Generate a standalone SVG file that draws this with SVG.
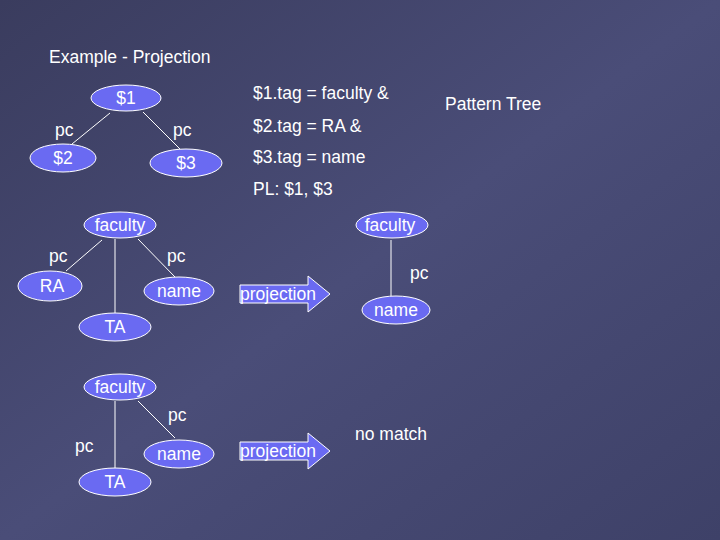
<svg xmlns="http://www.w3.org/2000/svg" width="720" height="540" viewBox="0 0 720 540">
<defs>
<linearGradient id="bg" x1="0" y1="0" x2="1" y2="1">
<stop offset="0" stop-color="#3a3c5e"/><stop offset="0.5" stop-color="#4a4d78"/><stop offset="1" stop-color="#3e4168"/>
</linearGradient>
<style>
text{font-family:"Liberation Sans",Arial,sans-serif;fill:#fff;font-size:17.5px}
.n ellipse{fill:#6a6af2;stroke:#fff;stroke-width:1}
.n text{text-anchor:middle}
.c line{stroke:#fff;stroke-width:1}
.arr{fill:#6a6af2;stroke:#fff;stroke-width:1}
</style>
</defs>
<rect width="720" height="540" fill="url(#bg)"/>
<text x="49" y="63">Example - Projection</text>
<text x="445" y="110">Pattern Tree</text>
<text x="253" y="99">$1.tag = faculty &amp;</text>
<text x="253" y="132">$2.tag = RA &amp;</text>
<text x="253" y="163">$3.tag = name</text>
<text x="253" y="195">PL: $1, $3</text>
<g class="c">
<line x1="110" y1="113" x2="72" y2="144"/><line x1="143" y1="112" x2="180" y2="149"/>
<line x1="102" y1="240" x2="66" y2="271"/><line x1="115" y1="239" x2="115" y2="313"/><line x1="138" y1="239" x2="175" y2="277"/>
<line x1="391" y1="240" x2="391" y2="296"/>
<line x1="115" y1="401" x2="115" y2="468"/><line x1="138" y1="401" x2="175" y2="438"/>
</g>
<text x="55" y="136">pc</text><text x="173" y="136">pc</text>
<text x="49" y="262">pc</text><text x="167" y="262">pc</text><text x="410" y="279">pc</text>
<text x="168" y="421">pc</text><text x="75" y="452">pc</text>
<g id="s1" class="n"><ellipse cx="126" cy="98" rx="35" ry="13"/><text x="126" y="104">$1</text></g>
<g id="s2" class="n"><ellipse cx="63" cy="158" rx="33" ry="14"/><text x="63" y="164">$2</text></g>
<g id="s3" class="n"><ellipse cx="186" cy="163" rx="36" ry="14"/><text x="186" y="169">$3</text></g>
<g id="f1" class="n"><ellipse cx="120" cy="225" rx="36" ry="13"/><text x="120" y="231">faculty</text></g>
<g id="ra" class="n"><ellipse cx="50" cy="286" rx="32" ry="15"/><text x="52" y="292">RA</text></g>
<g id="nm1" class="n"><ellipse cx="179" cy="291" rx="35" ry="14"/><text x="179" y="297">name</text></g>
<g id="ta1" class="n"><ellipse cx="115" cy="327" rx="36" ry="14"/><text x="115" y="333">TA</text></g>
<g id="f2" class="n"><ellipse cx="392" cy="225" rx="36" ry="13"/><text x="390" y="231">faculty</text></g>
<g id="nm2" class="n"><ellipse cx="396" cy="310" rx="34" ry="14"/><text x="396" y="316">name</text></g>
<g id="f3" class="n"><ellipse cx="120" cy="387" rx="36" ry="13"/><text x="120" y="393">faculty</text></g>
<g id="nm3" class="n"><ellipse cx="179" cy="454" rx="35" ry="14"/><text x="179" y="460">name</text></g>
<g id="ta2" class="n"><ellipse cx="115" cy="482" rx="36" ry="14"/><text x="115" y="488">TA</text></g>
<g id="a1"><path class="arr" d="M240,285 H308 V276 L330,294 L308,312 V303 H240 Z"/><text x="240" y="300" font-size="16">projection</text></g>
<g id="a2"><path class="arr" d="M240,442 H308 V433 L330,451 L308,469 V460 H240 Z"/><text x="240" y="457" font-size="16">projection</text></g>
<text x="355" y="440">no match</text>
</svg>
